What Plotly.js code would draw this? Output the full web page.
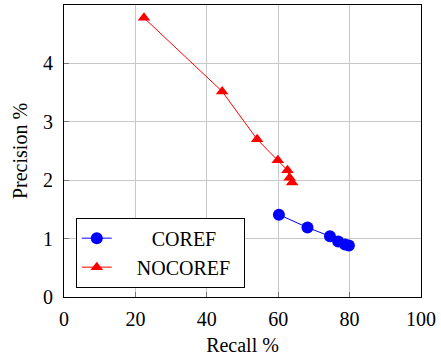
<!DOCTYPE html>
<html>
<head>
<meta charset="utf-8">
<script src="https://cdn.plot.ly/plotly-3.0.1.min.js"></script>
<style>html,body{margin:0;padding:0;background:#fff;}#chart{width:441px;height:358px;}</style>
</head>
<body>
<div id="chart"></div>
<script>
const corefRecall = [60.2, 68.2, 74.5, 76.8, 78.7, 79.8];
const corefPrecision = [1.41, 1.19, 1.04, 0.95, 0.90, 0.88];
const nocorefRecall = [22.4, 44.3, 54.1, 59.9, 62.6, 63.2, 63.9];
const nocorefPrecision = [4.78, 3.52, 2.70, 2.34, 2.17, 2.04, 1.96];
const xTicks = [0, 20, 40, 60, 80, 100];
const yTicks = [0, 1, 2, 3, 4];
const seriesNames = ['COREF', 'NOCOREF'];

const font = {family: '"Liberation Serif", "DejaVu Serif", serif', size: 20, color: '#000'};
const nb = n => '\u00a0'.repeat(n);
const pad = '<span style="color:#ffffff">..</span>';

const traces = [
  {x: corefRecall, y: corefPrecision, name: nb(7) + seriesNames[0], type: 'scatter', mode: 'lines+markers',
   line: {color: '#0000ff', width: 1}, marker: {color: '#0000ff', symbol: 'circle', size: 12}},
  {x: nocorefRecall, y: nocorefPrecision, name: nb(4) + seriesNames[1] + pad, type: 'scatter', mode: 'lines+markers',
   line: {color: '#ff0000', width: 1}, marker: {color: '#ff0000', symbol: 'triangle-up', size: 11}}
];

const axisCommon = {showline: true, mirror: true, linecolor: '#000', linewidth: 1,
  showgrid: true, gridcolor: '#c8c8c8', gridwidth: 1, zeroline: false,
  ticks: 'inside', ticklen: 5, tickcolor: '#777', tickfont: font};

const layout = {
  width: 441, height: 358,
  margin: {l: 64, r: 20, t: 5, b: 61},
  paper_bgcolor: '#fff', plot_bgcolor: '#fff',
  font: font,
  showlegend: true,
  legend: {x: 0.033, y: 0.032, xanchor: 'left', yanchor: 'bottom', bgcolor: '#fff',
    bordercolor: '#000', borderwidth: 1, font: font, tracegroupgap: 0},
  xaxis: Object.assign({}, axisCommon, {range: [0, 100], tickvals: xTicks, ticktext: xTicks.map(String),
    title: {text: 'Recall %', font: font, standoff: 8}, ticklabelstandoff: 4}),
  yaxis: Object.assign({}, axisCommon, {range: [0, 5], tickvals: yTicks, ticktext: yTicks.map(String),
    title: {text: 'Precision %', font: font, standoff: 10}, ticklabelstandoff: 6})
};

Plotly.newPlot('chart', traces, layout, {displayModeBar: false, staticPlot: true});
</script>
</body>
</html>
